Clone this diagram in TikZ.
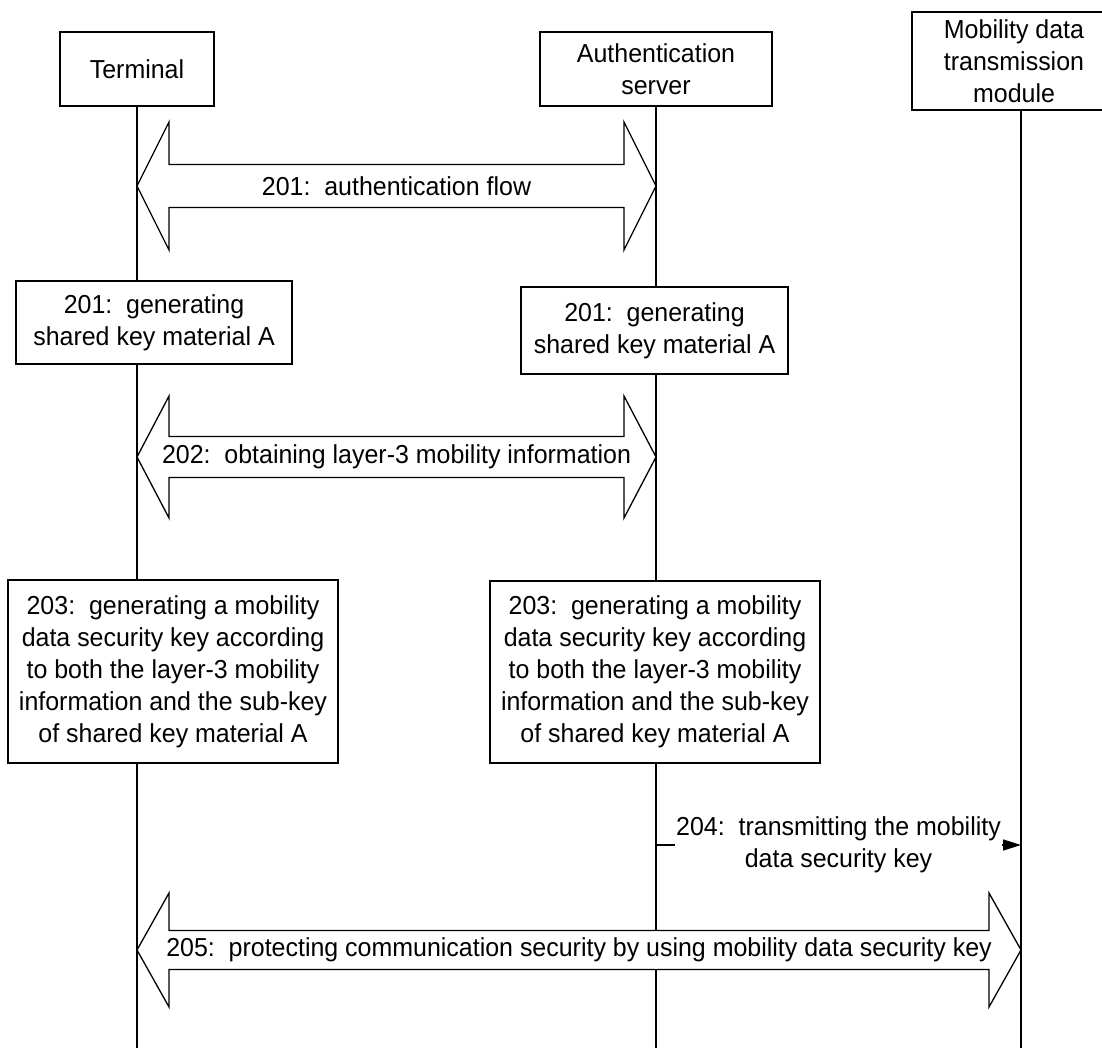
\documentclass[tikz,border=0pt]{standalone}
\usepackage{fontspec}
\setmainfont{Liberation Sans}[FakeStretch=0.96]
\usetikzlibrary{arrows.meta}

\tikzset{
  box/.style={draw, line width=1.3pt, fill=white, align=center, inner sep=0pt},
  life/.style={line width=1.3pt},
  barrow/.style={draw, line width=1.3pt, fill=white, line join=miter},
  lbl/.style={inner sep=0pt, align=center},
  msg/.style={line width=1.3pt, -{Triangle[length=18pt,width=11pt]}},
}

% double block arrow: name, left tip x, right tip x, mid y, head half-height, shaft half-height, label
\newcommand{\blockarrow}[7]{%
  \draw[barrow] (#2,#4) -- (#2+32,#4-#5) -- (#2+32,#4-#6) -- (#3-32,#4-#6)
    -- (#3-32,#4-#5) -- (#3,#4) -- (#3-32,#4+#5) -- (#3-32,#4+#6)
    -- (#2+32,#4+#6) -- (#2+32,#4+#5) -- cycle;
  \node[lbl] (#1) at ({(#2+#3)/2},#4) {#7};
}

\begin{document}
\begin{tikzpicture}[x=1pt, y=-1pt, font=\fontsize{26}{32}\selectfont]
\useasboundingbox (0,0) rectangle (1102,1048);

% participants
\node[box, minimum width=154pt, minimum height=74pt] (term) at (137,69) {Terminal};
\node[box, minimum width=232pt, minimum height=74pt] (auth) at (656,69) {Authentication\\server};
\node[box, minimum width=204pt, minimum height=98pt] (mob) at (1014,61) {Mobility data\\transmission\\module};

% lifeline ends
\coordinate (termEnd) at (137,1048);
\coordinate (authEnd) at (656,1048);
\coordinate (mobEnd) at (1021,1048);

\draw[life] (term.south) -- (termEnd);
\draw[life] (auth.south) -- (authEnd);
\draw[life] (mobEnd |- mob.south) -- (mobEnd);

% 201: authentication flow
\blockarrow{a201}{137}{656}{186}{64}{21.5}{201:\ \ authentication flow}

% 201: key material on both sides
\node[box, minimum width=276pt, minimum height=83pt] (tk201) at (154,322.5) {201:\ \ generating\\shared key material A};
\node[box, minimum width=267pt, minimum height=87pt] (ak201) at (654.5,330.5) {201:\ \ generating\\shared key material A};

% 202: layer-3 mobility information
\blockarrow{a202}{137}{656}{457}{61}{20.5}{202:\ \ obtaining layer-3 mobility information}

% 203: mobility data security key
\node[box, minimum width=330pt, minimum height=183pt] (tk203) at (173,671.5)
  {203:\ \ generating a mobility\\data security key according\\to both the layer-3 mobility\\information and the sub-key\\of shared key material A};
\node[box, minimum width=330pt, minimum height=182pt] (ak203) at (655,672)
  {203:\ \ generating a mobility\\data security key according\\to both the layer-3 mobility\\information and the sub-key\\of shared key material A};

% 204: key transfer to the mobility data transmission module
\coordinate (s204) at (authEnd |- 0,845);
\coordinate (e204) at (mobEnd |- 0,845);
\draw[msg] (s204) -- node[lbl, fill=white, inner xsep=1pt] (m204) {204:\ \ transmitting the mobility\\data security key} (e204);

% 205: protected communication
\blockarrow{a205}{137}{1021}{950}{57}{19.5}{205:\ \ protecting communication security by using mobility data security key}

\end{tikzpicture}
\end{document}
